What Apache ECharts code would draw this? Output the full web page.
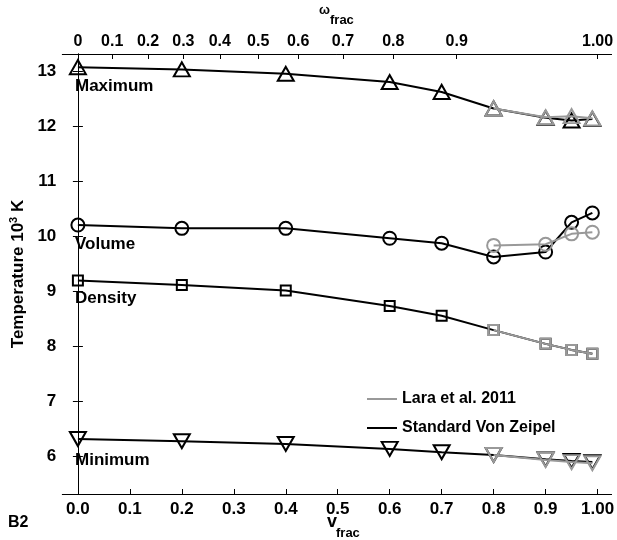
<!DOCTYPE html>
<html>
<head>
<meta charset="utf-8">
<script src="https://cdn.jsdelivr.net/npm/echarts@6/dist/echarts.min.js"></script>
<style>
  html, body { margin: 0; padding: 0; background: #fff; }
  #chart { width: 617px; height: 540px; }
</style>
</head>
<body>
<div id="chart"></div>
<script>
// Rotation fraction of the sampled models
const vFrac = [0.0, 0.2, 0.4, 0.6, 0.7, 0.8, 0.9, 0.95, 0.99];
const vFracLara = [0.8, 0.9, 0.95, 0.99];

// Standard von Zeipel temperatures (10^3 K)
const maxVZ = [13.08, 13.04, 12.96, 12.81, 12.63, 12.33, 12.16, 12.11, 12.14];
const volVZ = [10.21, 10.15, 10.15, 9.97, 9.88, 9.63, 9.72, 10.26, 10.43];
const denVZ = [9.20, 9.12, 9.02, 8.74, 8.56, 8.30, 8.05, 7.94, 7.87];
const minVZ = [6.32, 6.28, 6.23, 6.14, 6.08, 6.03, 5.95, 5.92, 5.90];

// Lara et al. 2011 temperatures (10^3 K)
const maxLara = [12.33, 12.17, 12.19, 12.15];
const volLara = [9.84, 9.86, 10.05, 10.08];
const denLara = [8.30, 8.05, 7.94, 7.87];
const minLara = [6.03, 5.94, 5.90, 5.88];

// Axis ticks
const xTickValues = [0, 0.1, 0.2, 0.3, 0.4, 0.5, 0.6, 0.7, 0.8, 0.9, 1.0];
const xTickLabels = ['0.0', '0.1', '0.2', '0.3', '0.4', '0.5', '0.6', '0.7', '0.8', '0.9', '1.00'];
// omega_frac ticks placed at their v_frac position
const omegaTickPos = [0, 0.066, 0.135, 0.203, 0.273, 0.347, 0.424, 0.510, 0.607, 0.729, 1.0];
const omegaTickLabels = ['0', '0.1', '0.2', '0.3', '0.4', '0.5', '0.6', '0.7', '0.8', '0.9', '1.00'];
const yTickValues = [6, 7, 8, 9, 10, 11, 12, 13];

const LARA = 'Lara et al. 2011';
const VZ = 'Standard Von Zeipel';
const GRAY = '#999999';
const BLACK = '#000000';
const FONT = 'Liberation Sans, Arial, sans-serif';

function pairs(xs, ys) { return xs.map((x, i) => [x, ys[i]]); }

function makeSeries(name, xs, ys, color, symbol, size, rotate, z) {
  return {
    type: 'line',
    name: name,
    data: pairs(xs, ys),
    symbol: symbol,
    symbolSize: size,
    symbolRotate: rotate,
    showAllSymbol: true,
    z: z,
    animation: false,
    lineStyle: { color: color, width: 2 },
    itemStyle: { color: 'rgba(0,0,0,0)', borderColor: color, borderWidth: 2 },
    emphasis: { disabled: true }
  };
}

function labelFor(values, labels) {
  return function (v) {
    for (let i = 0; i < values.length; i++) {
      if (Math.abs(values[i] - v) < 1e-6) return labels[i];
    }
    return '';
  };
}

function tickFont(size) {
  return { fontFamily: FONT, fontWeight: 'bold', fontSize: size, color: '#000' };
}

const xMin = -0.03, xMax = 1.027;
const yMin = 5.32, yMax = 13.32;

const chart = echarts.init(document.getElementById('chart'), null, { renderer: 'canvas' });

chart.setOption({
  backgroundColor: '#fff',
  animation: false,
  grid: { left: 58, right: 2, top: 54, bottom: 46, containLabel: false },
  legend: {
    left: 362, top: 386,
    orient: 'vertical',
    itemGap: 13,
    itemWidth: 30, itemHeight: 2,
    icon: 'rect',
    textStyle: { fontFamily: FONT, fontWeight: 'bold', fontSize: 16, color: '#000' },
    data: [
      { name: LARA, itemStyle: { color: GRAY, borderWidth: 0 } },
      { name: VZ, itemStyle: { color: BLACK, borderWidth: 0 } }
    ],
    selectedMode: false
  },
  xAxis: [
    {
      type: 'value', position: 'bottom', min: xMin, max: xMax,
      axisLine: { show: true, lineStyle: { color: '#000', width: 1 } },
      axisTick: { show: true, inside: true, length: 5, customValues: xTickValues, lineStyle: { color: '#000' } },
      axisLabel: Object.assign({ customValues: xTickValues, margin: 7, formatter: labelFor(xTickValues, xTickLabels) }, tickFont(17)),
      splitLine: { show: false }
    },
    {
      type: 'value', position: 'top', min: xMin, max: xMax,
      axisLine: { show: true, lineStyle: { color: '#000', width: 1 } },
      axisTick: { show: true, inside: true, length: 5, customValues: omegaTickPos, lineStyle: { color: '#000' } },
      axisLabel: Object.assign({ customValues: omegaTickPos, margin: 4, formatter: labelFor(omegaTickPos, omegaTickLabels) }, tickFont(16)),
      splitLine: { show: false }
    }
  ],
  yAxis: [
    {
      type: 'value', position: 'left', min: yMin, max: yMax,
      axisLine: { show: true, lineStyle: { color: '#000', width: 1 } },
      axisTick: { show: true, inside: true, length: 5, customValues: yTickValues, lineStyle: { color: '#000' } },
      axisLabel: Object.assign({ customValues: yTickValues, margin: 6 }, tickFont(17)),
      splitLine: { show: false },
      name: 'Temperature 10{sup|3} K',
      nameLocation: 'middle',
      nameGap: 33,
      nameRotate: 90,
      nameTextStyle: {
        fontFamily: FONT, fontWeight: 'bold', fontSize: 17, color: '#000',
        rich: { sup: { fontFamily: FONT, fontWeight: 'bold', fontSize: 11, color: '#000', padding: [0, 0, 9, 0] } }
      }
    },
    {
      type: 'value', position: 'right', min: yMin, max: yMax,
      axisLine: { show: true, lineStyle: { color: '#000', width: 1 } },
      axisTick: { show: true, inside: true, length: 5, customValues: yTickValues, lineStyle: { color: '#000' } },
      axisLabel: { show: false },
      splitLine: { show: false }
    }
  ],
  series: [
    makeSeries(VZ, vFrac, maxVZ, BLACK, 'triangle', [16, 14], 0, 2),
    makeSeries(VZ, vFrac, volVZ, BLACK, 'circle', 13, 0, 2),
    makeSeries(VZ, vFrac, denVZ, BLACK, 'rect', 10, 0, 2),
    makeSeries(VZ, vFrac, minVZ, BLACK, 'triangle', [16, 14], 180, 2),
    makeSeries(LARA, vFracLara, maxLara, GRAY, 'triangle', [16, 14], 0, 3),
    makeSeries(LARA, vFracLara, volLara, GRAY, 'circle', 13, 0, 3),
    makeSeries(LARA, vFracLara, denLara, GRAY, 'rect', 10, 0, 3),
    makeSeries(LARA, vFracLara, minLara, GRAY, 'triangle', [16, 14], 180, 3)
  ],
  graphic: [
    { type: 'text', left: 75, top: 78, style: { text: 'Maximum', font: 'bold 17px ' + FONT, fill: '#000' } },
    { type: 'text', left: 75, top: 236, style: { text: 'Volume', font: 'bold 17px ' + FONT, fill: '#000' } },
    { type: 'text', left: 75, top: 290, style: { text: 'Density', font: 'bold 17px ' + FONT, fill: '#000' } },
    { type: 'text', left: 75, top: 452, style: { text: 'Minimum', font: 'bold 17px ' + FONT, fill: '#000' } },
    { type: 'text', left: 8, top: 515, style: { text: 'B2', font: 'bold 16px ' + FONT, fill: '#000' } },
    { type: 'text', left: 327, top: 513, style: { text: 'v', font: 'bold 18px ' + FONT, fill: '#000' } },
    { type: 'text', left: 336, top: 527, style: { text: 'frac', font: 'bold 13px ' + FONT, fill: '#000' } },
    { type: 'text', left: 319, top: 4, style: { text: 'ω', font: 'bold 13px ' + FONT, fill: '#000' } },
    { type: 'text', left: 330, top: 14, style: { text: 'frac', font: 'bold 13px ' + FONT, fill: '#000' } }
  ]
});
</script>
</body>
</html>
